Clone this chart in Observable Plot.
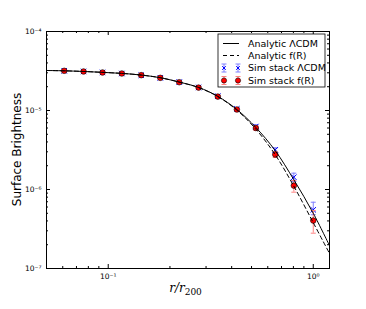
<!DOCTYPE html>
<html><head><meta charset="utf-8">
<script src="https://cdn.jsdelivr.net/npm/d3@7"></script>
<script src="https://cdn.jsdelivr.net/npm/@observablehq/plot@0.6"></script>
<style>body{margin:0;background:#fff}#c{width:366px;height:309px}</style>
</head><body><div id="c"></div>
<script>
// Radii (r/r200)
const r = [0.061, 0.0758, 0.0938, 0.1165, 0.1449, 0.1794, 0.222, 0.2758, 0.3424, 0.424, 0.5248, 0.6526, 0.804, 1.0];
// Sim stack f(R) (red)
const simF   = [3.18e-5, 3.12e-5, 3.03e-5, 2.94e-5, 2.80e-5, 2.59e-5, 2.28e-5, 1.95e-5, 1.50e-5, 1.03e-5, 6.0e-6, 2.77e-6, 1.12e-6, 4.05e-7];
const simFlo = [3.10e-5, 3.05e-5, 2.96e-5, 2.88e-5, 2.74e-5, 2.54e-5, 2.23e-5, 1.90e-5, 1.46e-5, 9.9e-6, 5.6e-6, 2.54e-6, 9.25e-7, 2.8e-7];
const simFhi = [3.26e-5, 3.19e-5, 3.10e-5, 3.00e-5, 2.86e-5, 2.64e-5, 2.33e-5, 2.00e-5, 1.54e-5, 1.07e-5, 6.4e-6, 3.03e-6, 1.30e-6, 5.42e-7];
// Sim stack LCDM (blue)
const simL   = [3.18e-5, 3.12e-5, 3.03e-5, 2.94e-5, 2.80e-5, 2.59e-5, 2.29e-5, 1.96e-5, 1.52e-5, 1.05e-5, 6.27e-6, 3.18e-6, 1.43e-6, 5.53e-7];
const simLlo = [3.11e-5, 3.06e-5, 2.97e-5, 2.88e-5, 2.75e-5, 2.54e-5, 2.24e-5, 1.92e-5, 1.48e-5, 1.01e-5, 6.0e-6, 2.94e-6, 1.26e-6, 4.79e-7];
const simLhi = [3.25e-5, 3.18e-5, 3.09e-5, 3.00e-5, 2.86e-5, 2.64e-5, 2.34e-5, 2.00e-5, 1.56e-5, 1.09e-5, 6.6e-6, 3.37e-6, 1.61e-6, 6.9e-7];
// Analytic curves
const lineR = [0.05, 0.061, 0.0758, 0.0938, 0.1165, 0.1449, 0.1794, 0.222, 0.2758, 0.3424, 0.424, 0.5248, 0.6526, 0.804, 1.0, 1.2];
const anaL  = [3.21e-5, 3.18e-5, 3.12e-5, 3.04e-5, 2.95e-5, 2.81e-5, 2.60e-5, 2.29e-5, 1.96e-5, 1.51e-5, 1.03e-5, 6.1e-6, 3.1e-6, 1.33e-6, 5.0e-7, 1.95e-7];
const anaF  = [3.21e-5, 3.18e-5, 3.12e-5, 3.04e-5, 2.95e-5, 2.81e-5, 2.60e-5, 2.29e-5, 1.95e-5, 1.50e-5, 1.01e-5, 5.8e-6, 2.75e-6, 1.1e-6, 3.8e-7, 1.55e-7];
// Ticks
const xMajor = [0.1, 1];
const yMajor = [1e-7, 1e-6, 1e-5, 1e-4];
const xDomain = [0.05, 1.2];
const yDomain = [1e-7, 1e-4];
const legendLabels = ["Analytic \u039BCDM", "Analytic f(R)", "Sim stack \u039BCDM", "Sim stack f(R)"];

const W = 366, H = 309, mt = 31, mr = 37, mb = 41, ml = 46;
const pw = W - ml - mr, ph = H - mt - mb;

const minor = (dom) => {
  const out = [];
  for (let e = -8; e <= 1; e++) for (let k = 2; k <= 9; k++) {
    const v = k * Math.pow(10, e);
    if (v >= dom[0] * 0.999 && v <= dom[1] * 1.001) out.push(v);
  }
  return out;
};
const xMinor = minor(xDomain), yMinor = minor(yDomain);

const sup = {"-":"\u207B","0":"\u2070","1":"\u00B9","2":"\u00B2","3":"\u00B3","4":"\u2074","5":"\u2075","6":"\u2076","7":"\u2077","8":"\u2078","9":"\u2079"};
const fmt = v => "10" + String(Math.round(Math.log10(v))).split("").map(c => sup[c]).join("");

const pts = r.map((x, i) => ({x, f: simF[i], flo: simFlo[i], fhi: simFhi[i], l: simL[i], llo: simLlo[i], lhi: simLhi[i]}));
const lines = lineR.map((x, i) => ({x, l: anaL[i], f: anaF[i]}));

const hline = {draw(ctx, size) { const s = Math.sqrt(size / Math.PI); ctx.moveTo(-s, 0); ctx.lineTo(s, 0); }};

const blueBar = "#8080ff", redBar = "#ff8080";

const chart = Plot.plot({
  width: W, height: H,
  marginTop: mt, marginRight: mr, marginBottom: mb, marginLeft: ml,
  style: {fontFamily: "DejaVu Sans", background: "white"},
  x: {type: "log", domain: xDomain},
  y: {type: "log", domain: yDomain},
  marks: [
    // inward ticks, all four sides
    Plot.tickX(xMajor, {x: d => d, insetTop: ph - 4, stroke: "black"}),
    Plot.tickX(xMajor, {x: d => d, insetBottom: ph - 4, stroke: "black"}),
    Plot.tickX(xMinor, {x: d => d, insetTop: ph - 2, stroke: "black"}),
    Plot.tickX(xMinor, {x: d => d, insetBottom: ph - 2, stroke: "black"}),
    Plot.tickY(yMajor, {y: d => d, insetRight: pw - 4, stroke: "black"}),
    Plot.tickY(yMajor, {y: d => d, insetLeft: pw - 4, stroke: "black"}),
    Plot.tickY(yMinor, {y: d => d, insetRight: pw - 2, stroke: "black"}),
    Plot.tickY(yMinor, {y: d => d, insetLeft: pw - 2, stroke: "black"}),
    Plot.axisX({ticks: xMajor, tickSize: 0, tickPadding: 5, tickFormat: fmt, fontSize: 7.5, label: null}),
    Plot.axisY({ticks: yMajor, tickSize: 0, tickPadding: 5, tickFormat: fmt, fontSize: 7.5, label: null}),
    // blue errorbars
    Plot.ruleX(pts, {x: "x", y1: "llo", y2: "lhi", stroke: blueBar, strokeWidth: 1}),
    Plot.dot(pts, {x: "x", y: "llo", symbol: hline, r: 2.5, stroke: blueBar, strokeWidth: 1}),
    Plot.dot(pts, {x: "x", y: "lhi", symbol: hline, r: 2.5, stroke: blueBar, strokeWidth: 1}),
    Plot.dot(pts, {x: "x", y: "l", symbol: "times", r: 2.6, stroke: "blue", strokeWidth: 1}),
    // red errorbars
    Plot.ruleX(pts, {x: "x", y1: "flo", y2: "fhi", stroke: redBar, strokeWidth: 1}),
    Plot.dot(pts, {x: "x", y: "flo", symbol: hline, r: 2.5, stroke: redBar, strokeWidth: 1}),
    Plot.dot(pts, {x: "x", y: "fhi", symbol: hline, r: 2.5, stroke: redBar, strokeWidth: 1}),
    Plot.dot(pts, {x: "x", y: "f", r: 2.8, fill: "red", stroke: "black", strokeWidth: 0.6}),
    // analytic lines
    Plot.line(lines, {x: "x", y: "l", stroke: "black", strokeWidth: 1, curve: "catmull-rom"}),
    Plot.line(lines, {x: "x", y: "f", stroke: "black", strokeWidth: 1, strokeDasharray: "4,3", curve: "catmull-rom"}),
    Plot.frame({stroke: "black", strokeWidth: 1})
  ]
});
document.getElementById("c").appendChild(chart);

const svg = d3.select(chart);
// Axis labels
svg.append("text").attr("transform", `translate(17,${mt + ph / 2}) rotate(-90)`)
  .attr("text-anchor", "middle").attr("dominant-baseline", "middle")
  .style("font-family", "DejaVu Sans").style("font-size", "12px").text("Surface Brightness");
const xl = svg.append("text").attr("x", ml + pw / 2 - 2).attr("y", 292).attr("text-anchor", "middle")
  .style("font-family", "DejaVu Serif").style("font-size", "12px").style("font-style", "italic");
xl.append("tspan").text("r/r");
xl.append("tspan").attr("dy", 3).style("font-size", "9px").style("font-style", "normal").text("200");

// Legend
const lg = svg.append("g").style("font-family", "DejaVu Sans").style("font-size", "9.5px").attr("text-anchor", "start");
const bx = 218, by = 34, bw = 107, bh = 53;
lg.append("rect").attr("x", bx).attr("y", by).attr("width", bw).attr("height", bh).attr("fill", "white").attr("stroke", "black").attr("stroke-width", 0.8);
const rows = [43.5, 55.5, 68, 80.5];
const s0 = 223, s1 = 239;
lg.append("line").attr("x1", s0).attr("x2", s1).attr("y1", rows[0]).attr("y2", rows[0]).attr("stroke", "black");
lg.append("line").attr("x1", s0).attr("x2", s1).attr("y1", rows[1]).attr("y2", rows[1]).attr("stroke", "black").attr("stroke-dasharray", "4,3");
for (const cx of [s0 + 1, s1 - 1]) {
  const y2 = rows[2], y3 = rows[3];
  lg.append("line").attr("x1", cx).attr("x2", cx).attr("y1", y2 - 4).attr("y2", y2 + 4).attr("stroke", blueBar);
  lg.append("line").attr("x1", cx - 2.5).attr("x2", cx + 2.5).attr("y1", y2 - 4).attr("y2", y2 - 4).attr("stroke", blueBar);
  lg.append("line").attr("x1", cx - 2.5).attr("x2", cx + 2.5).attr("y1", y2 + 4).attr("y2", y2 + 4).attr("stroke", blueBar);
  lg.append("path").attr("d", `M${cx-1.8},${y2-1.8}L${cx+1.8},${y2+1.8}M${cx-1.8},${y2+1.8}L${cx+1.8},${y2-1.8}`).attr("stroke", "blue");
  lg.append("line").attr("x1", cx).attr("x2", cx).attr("y1", y3 - 4).attr("y2", y3 + 4).attr("stroke", redBar);
  lg.append("line").attr("x1", cx - 2.5).attr("x2", cx + 2.5).attr("y1", y3 - 4).attr("y2", y3 - 4).attr("stroke", redBar);
  lg.append("line").attr("x1", cx - 2.5).attr("x2", cx + 2.5).attr("y1", y3 + 4).attr("y2", y3 + 4).attr("stroke", redBar);
  lg.append("circle").attr("cx", cx).attr("cy", y3).attr("r", 2.6).attr("fill", "red").attr("stroke", "black").attr("stroke-width", 0.6);
}
legendLabels.forEach((t, i) => {
  lg.append("text").attr("x", 248).attr("y", rows[i]).attr("dy", "0.35em").attr("text-anchor", "start").text(t);
});
</script></body></html>
